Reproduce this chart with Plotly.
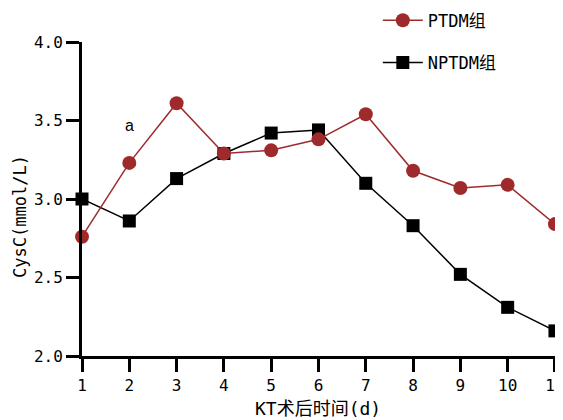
import plotly.graph_objects as go

days = [1, 2, 3, 4, 5, 6, 7, 8, 9, 10, 11]
ptdm = [2.76, 3.23, 3.61, 3.29, 3.31, 3.38, 3.54, 3.18, 3.07, 3.09, 2.84]
nptdm = [3.00, 2.86, 3.13, 3.29, 3.42, 3.44, 3.10, 2.83, 2.52, 2.31, 2.16]
y_ticks = [2.0, 2.5, 3.0, 3.5, 4.0]
y_tick_labels = ["2.0", "2.5", "3.0", "3.5", "4.0"]

RED = "#9F2A2C"
MONO = "DejaVu Sans Mono, Noto Sans CJK SC, sans-serif"

fig = go.Figure()
fig.add_trace(go.Scatter(
    x=days, y=nptdm, name="NPTDM组", mode="lines+markers",
    line=dict(color="black", width=1.5),
    marker=dict(symbol="square", size=13, color="black"),
    cliponaxis=False, legendgroup="b", legendrank=2,
))
fig.add_trace(go.Scatter(
    x=days, y=ptdm, name="PTDM组", mode="lines+markers",
    line=dict(color=RED, width=1.5),
    marker=dict(symbol="circle", size=14, color=RED),
    cliponaxis=False, legendgroup="a", legendrank=1,
))

fig.add_annotation(x=2, y=3.47, text="a", showarrow=False,
                   font=dict(family="Liberation Sans, Arial", size=16, color="black"))

fig.add_annotation(xref="paper", yref="paper", x=0.49, y=0, yshift=-52,
                   xanchor="center", yanchor="middle", showarrow=False,
                   text="KT术后时间(d)", font=dict(family=MONO, size=18, color="black"))
fig.add_annotation(xref="paper", yref="paper", x=0, xshift=-62, y=0.443,
                   xanchor="center", yanchor="middle", showarrow=False, textangle=-90,
                   text="CysC(mmol/L)", font=dict(family=MONO, size=17, color="black"))

axis_common = dict(
    showgrid=False, zeroline=False, showline=True, linecolor="black", linewidth=3,
    ticks="outside", ticklen=13, tickwidth=2.5, tickcolor="black",
    tickfont=dict(family=MONO, size=16, color="black"), automargin=False,
    ticklabeloverflow="allow",
)

fig.update_layout(
    width=555, height=412,
    margin=dict(l=74, r=0, t=34, b=64, autoexpand=False),
    plot_bgcolor="white", paper_bgcolor="white",
    xaxis=dict(range=[1, 11.17], tickvals=days, **axis_common),
    yaxis=dict(range=[2, 4], tickvals=y_ticks, ticktext=y_tick_labels, **axis_common),
    showlegend=True,
    legend=dict(x=0.615, y=1.125, xanchor="left", yanchor="top",
                traceorder="grouped", tracegroupgap=17, itemwidth=40,
                font=dict(family=MONO, size=17, color="black"),
                bgcolor="rgba(0,0,0,0)"),
)

fig.write_html("out.html")
